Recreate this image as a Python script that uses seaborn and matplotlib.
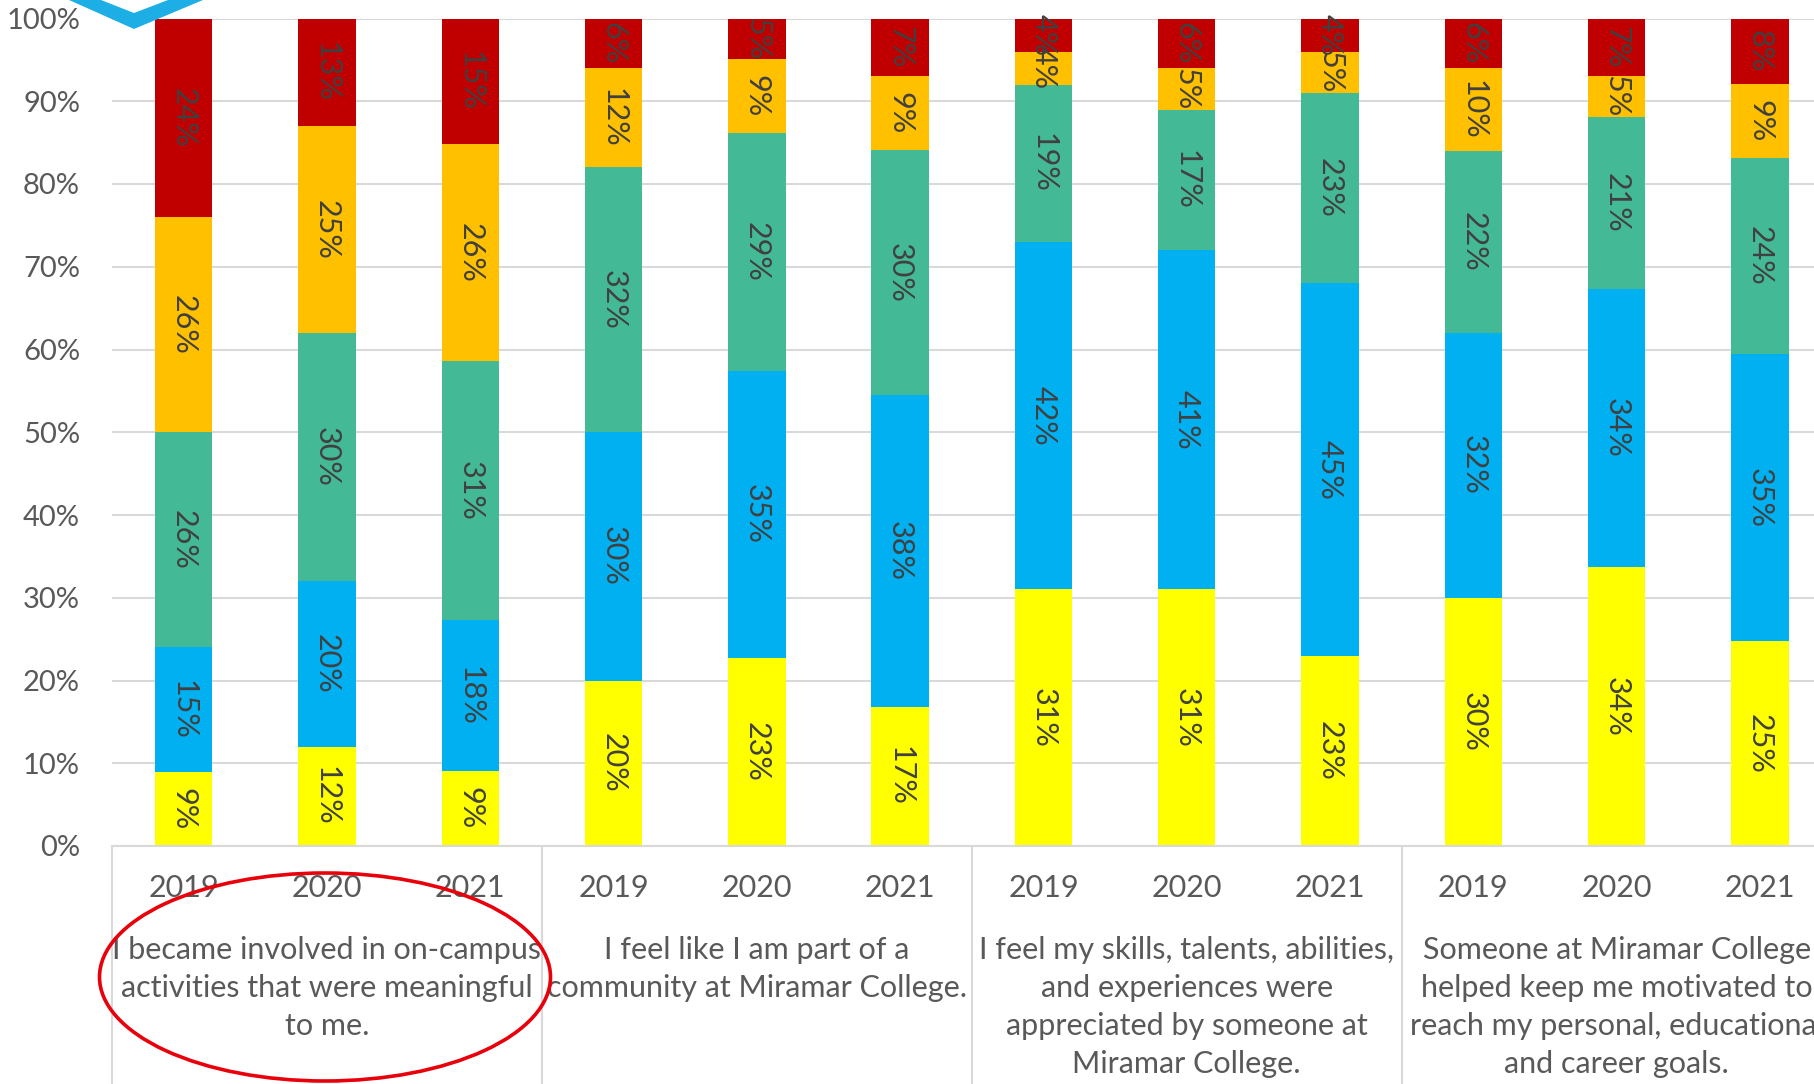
import numpy as np
import pandas as pd
import matplotlib
matplotlib.use("Agg")
import matplotlib.pyplot as plt
import seaborn as sns
from matplotlib.patches import Ellipse, Polygon
import matplotlib.transforms as mtransforms

# ---------------- data ----------------
groups = [
    "I became involved in on-campus\nactivities that were meaningful\nto me.",
    "I feel like I am part of a\ncommunity at Miramar College.",
    "I feel my skills, talents, abilities,\nand experiences were\nappreciated by someone at\nMiramar College.",
    "Someone at Miramar College\nhelped keep me motivated to\nreach my personal, educational\nand career goals.",
]
years = ["2019", "2020", "2021"]

yellow_vals = [9, 12, 9, 20, 23, 17, 31, 31, 23, 30, 34, 25]
blue_vals   = [15, 20, 18, 30, 35, 38, 42, 41, 45, 32, 34, 35]
green_vals  = [26, 30, 31, 32, 29, 30, 19, 17, 23, 22, 21, 24]
orange_vals = [26, 25, 26, 12, 9, 9, 4, 5, 5, 10, 5, 9]
red_vals    = [24, 13, 15, 6, 5, 7, 4, 6, 4, 6, 7, 8]

series_colors = ["#FFFF00", "#00B0F0", "#43B995", "#FFC000", "#C00000"]
series = [yellow_vals, blue_vals, green_vals, orange_vals, red_vals]

# ---------------- build table ----------------
cats = [f"{g}|{y}" for g in range(len(groups)) for y in years]
vals = np.array(series, dtype=float)          # (5, 12)
totals = vals.sum(axis=0)
pct = vals / totals * 100.0                   # 100% stacked
cum = np.cumsum(pct, axis=0)
bottoms = cum - pct

rows = []
for s in range(len(series)):
    for i, c in enumerate(cats):
        rows.append({"cat": c, "series": s, "cum": cum[s, i],
                     "mid": bottoms[s, i] + pct[s, i] / 2, "label": f"{int(vals[s, i])}%"})
df = pd.DataFrame(rows)

# ---------------- figure ----------------
sns.set_theme(style="white")
plt.rcParams["font.family"] = ["Lato", "DejaVu Sans"]

W, H = 1815, 1084
fig = plt.figure(figsize=(W / 100, H / 100), dpi=100)
ax_left, ax_bottom_px, ax_top_px = 112, 846, 18.5
slot = 143.3
ax = fig.add_axes([ax_left / W, (H - ax_bottom_px) / H, 12 * slot / W, (ax_bottom_px - ax_top_px) / H])

# draw stacked bars from top layer down
for s in reversed(range(len(series))):
    sub = df[df["series"] == s]
    sns.barplot(data=sub, x="cat", y="cum", order=cats, color=series_colors[s],
                saturation=1, width=0.4, errorbar=None, ax=ax, linewidth=0, zorder=2)

# data labels
for _, r in df.iterrows():
    ax.text(cats.index(r["cat"]), r["mid"], r["label"], rotation=270,
            ha="center", va="center", fontsize=22, color="#404040", zorder=5)

ax.set_xlim(-0.5, 11.5)
ax.set_ylim(0, 100)
ax.set_yticks(np.arange(0, 101, 10))
ax.set_yticklabels([f"{t}%" for t in range(0, 101, 10)])
ax.set_xticks([])
ax.set_xlabel("")
ax.set_ylabel("")
ax.tick_params(axis="y", length=0, pad=23, labelsize=21, labelcolor="#595959")
ax.yaxis.grid(True, color="#D9D9D9", linewidth=1.5)
ax.set_axisbelow(True)
for sp in ["left", "right", "top"]:
    ax.spines[sp].set_visible(False)
ax.spines["bottom"].set_color("#D9D9D9")
ax.spines["bottom"].set_linewidth(1.5)

# category axis (two levels)
trans = mtransforms.blended_transform_factory(ax.transData, fig.transFigure)
def fy(py):
    return (H - py) / H

for i, c in enumerate(cats):
    ax.text(i, fy(888), years[i % 3], transform=trans, ha="center", va="center",
            fontsize=22, color="#595959", clip_on=False)
for g, name in enumerate(groups):
    ax.text(3 * g + 1, fy(936), name, transform=trans, ha="center", va="top",
            fontsize=22, color="#595959", linespacing=1.44, clip_on=False)
for g in range(len(groups) + 1):
    ax.plot([3 * g - 0.5, 3 * g - 0.5], [fy(846), 0], transform=trans,
            color="#D9D9D9", linewidth=1.5, clip_on=False)

# red ellipse annotation
ell = Ellipse(((325) / W, fy(977)), 451 / W, 208 / H, transform=fig.transFigure,
              fill=False, edgecolor="#E8000B", linewidth=2.6, zorder=10)
fig.add_artist(ell)

# blue chevron (partial shape at top-left)
chev = [(69, 0), (134, 29), (203, 0), (168, 0), (134, 13), (101, 0)]
poly = Polygon([(x / W, fy(y)) for x, y in chev], closed=True, transform=fig.transFigure,
               facecolor="#1EAEE6", edgecolor="none", zorder=10)
fig.add_artist(poly)

fig.savefig("out.png", dpi=100)
